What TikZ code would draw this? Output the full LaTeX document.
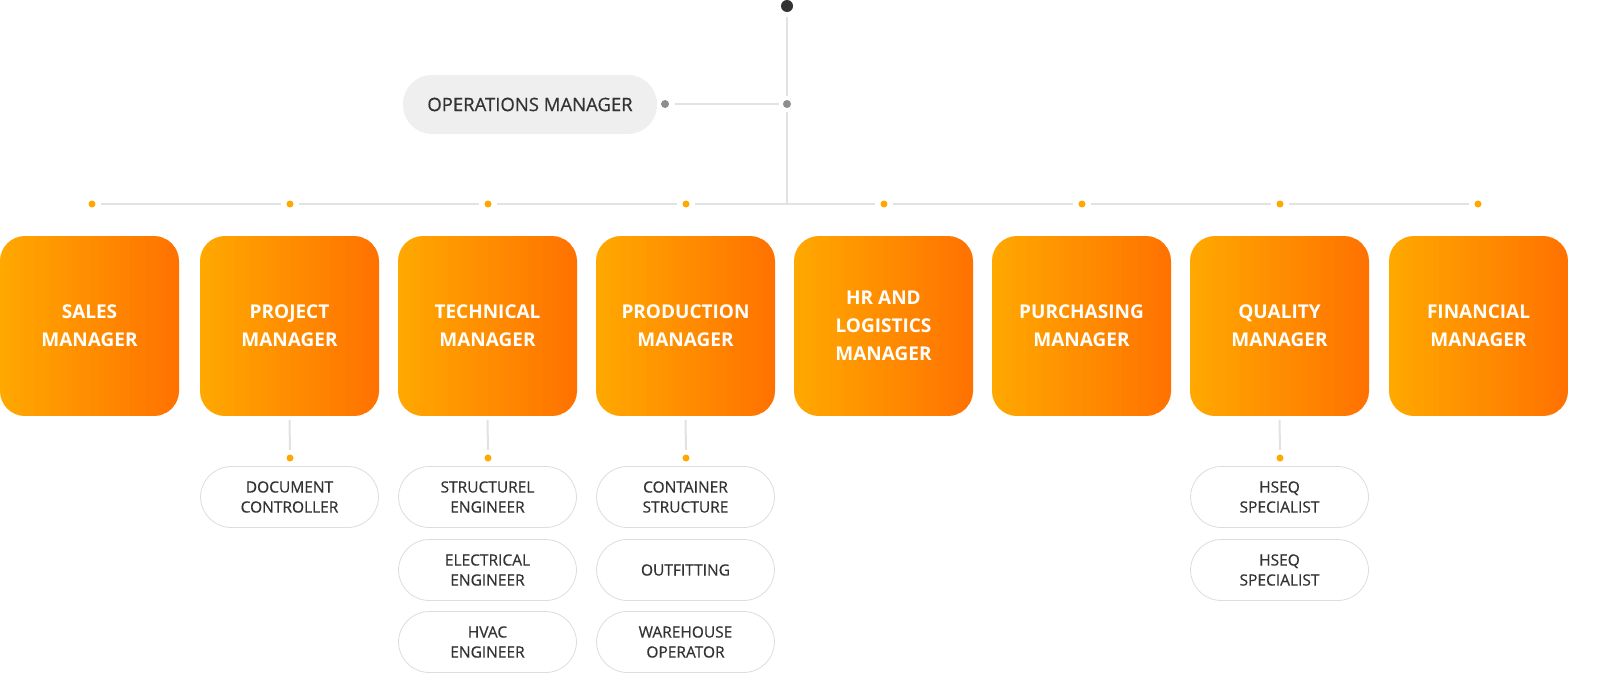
\documentclass[tikz,border=0pt]{standalone}
\usepackage{fontspec}
\setmainfont{Open Sans}
\newfontfamily\medfont{Open Sans}[FakeBold=0.5]
\definecolor{lineg}{HTML}{E2E2E2}
\definecolor{dotor}{HTML}{FFA800}
\definecolor{orL}{HTML}{FFA800}
\definecolor{orR}{HTML}{FF7200}
\definecolor{txt}{HTML}{333333}
\definecolor{pillbg}{HTML}{EFEFEF}
\definecolor{pillbd}{HTML}{DDDDDD}
\definecolor{greydot}{HTML}{8E8E8E}
\begin{document}
\begin{tikzpicture}[x=1pt,y=-1pt,
  mgr/.style={rounded corners=25pt, draw=none,
    path picture={
      \foreach \k in {0,...,35} {
        \pgfmathsetmacro\p{100*\k/35}
        \fill[sharp corners, orR!\p!orL] ([xshift=\k*5pt]path picture bounding box.north west)
          rectangle ([xshift=\k*5pt+5.4pt]path picture bounding box.south west);
      }
    },
    minimum width=179pt, minimum height=180pt, inner sep=0pt, text=white,
    font=\fontsize{19}{28}\selectfont\bfseries, align=center},
  pill/.style={rounded corners=31pt, draw=pillbd, line width=0.8pt, fill=white,
    minimum width=178pt, minimum height=61pt, inner sep=0pt, text=txt,
    font=\medfont\fontsize{15.5}{20}\selectfont, align=center},
  conn/.style={draw=lineg, line width=2pt},
  odot/.style={circle, fill=dotor, inner sep=0pt, minimum size=7pt},
  gdot/.style={circle, fill=greydot, inner sep=0pt, minimum size=8pt}
]
\fill[white] (0,0) rectangle (1600,688);
\useasboundingbox (0,0) rectangle (1600,688);
% top
\node[circle, fill=txt, inner sep=0pt, minimum size=12pt] (top) at (787,6) {};
\node[gdot] (g1) at (787,104) {};
\node[gdot] (g2) at (665,104) {};
\node[rounded corners=29pt, fill=pillbg, minimum width=254pt, minimum height=59pt, inner sep=0pt,
  text=txt, font=\medfont\fontsize{18.5}{20}\selectfont] (ops) at (530,104.5) {OPERATIONS MANAGER};
\coordinate (hj) at (787,204);
\draw[conn] ([yshift=-5pt]top.south) -- ([yshift=4pt]g1.north);
\draw[conn] ([yshift=-4pt]g1.south) -- (hj);
\draw[conn] ([xshift=6pt]g2.east) -- ([xshift=-4pt]g1.west);
% horizontal dots
\foreach \i/\x in {1/92,2/290,3/488,4/686,5/884,6/1082,7/1280,8/1478} {
  \node[odot] (d\i) at (\x,204) {};
}
\foreach \a/\b in {1/2,2/3,3/4,4/5,5/6,6/7,7/8} {
  \draw[conn] ([xshift=5pt]d\a.east) -- ([xshift=-5pt]d\b.west);
}
% managers
\node[mgr] (m1) at (89.5,326) {SALES\\MANAGER};
\node[mgr] (m2) at (289.5,326) {PROJECT\\MANAGER};
\node[mgr] (m3) at (487.5,326) {TECHNICAL\\MANAGER};
\node[mgr] (m4) at (685.5,326) {PRODUCTION\\MANAGER};
\node[mgr] (m5) at (883.5,326) {HR AND\\LOGISTICS\\MANAGER};
\node[mgr] (m6) at (1081.5,326) {PURCHASING\\MANAGER};
\node[mgr] (m7) at (1279.5,326) {QUALITY\\MANAGER};
\node[mgr] (m8) at (1478.5,326) {FINANCIAL\\MANAGER};
% sub dots
\foreach \i/\x in {2/290,3/488,4/686,7/1280} {
  \node[odot] (s\i) at (\x,458) {};
  \draw[conn] ([yshift=-4pt]m\i.south) -- ([yshift=4.5pt]s\i.north);
}
% pills
\node[pill] (p21) at (289.5,497) {DOCUMENT\\CONTROLLER};
\node[pill] (p31) at (487.5,497) {STRUCTUREL\\ENGINEER};
\node[pill] (p32) at (487.5,570) {ELECTRICAL\\ENGINEER};
\node[pill] (p33) at (487.5,642) {HVAC\\ENGINEER};
\node[pill] (p41) at (685.5,497) {CONTAINER\\STRUCTURE};
\node[pill] (p42) at (685.5,570) {OUTFITTING};
\node[pill] (p43) at (685.5,642) {WAREHOUSE\\OPERATOR};
\node[pill] (p71) at (1279.5,497) {HSEQ\\SPECIALIST};
\node[pill] (p72) at (1279.5,570) {HSEQ\\SPECIALIST};
\end{tikzpicture}
\end{document}
